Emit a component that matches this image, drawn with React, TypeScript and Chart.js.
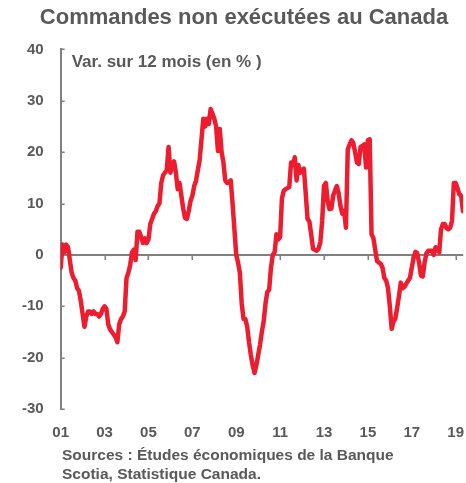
import React, { useEffect, useRef } from "react";
import { Chart, registerables } from "chart.js";

Chart.register(...registerables);

// ---- Data (monthly, y/y % change) ----
const startYear = 2001;
const y2001 = [-2.5, 2.0, 0.5, 2.0, 1.5, -1.0, -3.5, -4.5, -5.0, -6.5, -7.0, -9.0];
const y2002 = [-11.5, -14.0, -12.0, -11.0, -11.0, -11.5, -11.0, -11.5, -11.5, -12.0, -11.5, -10.5];
const y2003 = [-10.0, -10.5, -13.5, -14.5, -15.0, -15.5, -16.0, -17.0, -13.5, -12.5, -12.0, -11.0];
const y2004 = [-4.5, -3.5, -2.0, 0.5, 1.0, -1.0, 4.5, 4.5, 3.5, 2.3, 3.2, 2.3];
const y2005 = [3.0, 6.0, 7.0, 8.0, 8.5, 9.5, 10.0, 14.0, 15.5, 16.0, 16.5, 21.0];
const y2006 = [16.0, 17.5, 18.2, 16.0, 12.8, 14.0, 11.5, 9.0, 7.2, 7.0, 8.5, 10.5];
const y2007 = [11.5, 13.4, 14.4, 16.5, 18.5, 22.5, 26.5, 25.0, 26.5, 25.5, 28.4, 27.5];
const y2008 = [26.5, 25.0, 20.2, 24.5, 20.0, 18.0, 14.5, 14.0, 14.2, 14.5, 10.0, 5.0];
const y2009 = [0.0, -1.5, -3.5, -9.5, -12.5, -12.5, -14.0, -17.0, -19.5, -21.5, -23.0, -21.5];
const y2010 = [-19.5, -17.5, -15.0, -13.0, -9.5, -7.2, -6.8, -2.5, 0.0, 0.5, 4.0, 3.0];
const y2011 = [3.5, 11.0, 12.5, 12.8, 13.0, 13.2, 18.0, 17.5, 19.0, 14.5, 17.5, 16.0];
const y2012 = [16.5, 16.8, 12.0, 7.0, 6.5, 4.0, 1.2, 1.0, 0.8, 1.2, 2.5, 6.6];
const y2013 = [13.5, 14.0, 10.5, 8.9, 9.0, 11.5, 12.5, 13.4, 12.0, 9.5, 8.0, 8.5];
const y2014 = [5.3, 20.5, 21.5, 22.3, 21.8, 20.0, 18.0, 17.7, 21.0, 21.2, 21.5, 17.0];
const y2015 = [22.3, 22.5, 4.0, 3.3, 1.0, -1.2, -1.5, -1.7, -2.5, -4.5, -5.0, -6.5];
const y2016 = [-10.0, -14.4, -13.0, -12.4, -10.3, -8.0, -5.4, -6.5, -6.2, -5.6, -5.0, -4.5];
const y2017 = [-2.5, -0.6, 0.6, 0.3, -1.5, -4.0, -4.2, -1.5, 0.3, 0.8, 0.8, 0.8];
const y2018 = [0.0, 1.5, 1.0, 0.5, 5.0, 6.0, 6.0, 5.2, 5.0, 5.3, 6.6, 14.0];
const y2019 = [14.0, 13.0, 11.8, 11.5, 8.5];

const yearTickLabels = ["01", "03", "05", "07", "09", "11", "13", "15", "17", "19"];
const yTickValues = [-30, -20, -10, 0, 10, 20, 30, 40];

const titleText = "Commandes non exécutées au Canada";
const unitNote = "Var. sur 12 mois (en % )";
const sourceLines = ["Sources : Études économiques de la Banque", "Scotia, Statistique Canada."];

const monthly = [
  ...y2001, ...y2002, ...y2003, ...y2004, ...y2005, ...y2006, ...y2007,
  ...y2008, ...y2009, ...y2010, ...y2011, ...y2012, ...y2013, ...y2014,
  ...y2015, ...y2016, ...y2017, ...y2018, ...y2019,
];

const RED = "#ED1C2E";
const AXIS = "#808080";
const TEXT = "#595959";
const FONT = "'Liberation Sans', Arial, sans-serif";
const CLEAR = "rgba(0,0,0,0)";

const tickYears = yearTickLabels.map((l) => 2000 + parseInt(l, 10));

export default function App() {
  const canvasRef = useRef<HTMLCanvasElement | null>(null);

  useEffect(() => {
    document.body.style.margin = "0";
    const canvas = canvasRef.current;
    if (!canvas) return;

    const points = monthly.map((v, i) => ({ x: startYear + i / 12, y: v }));

    const axesPlugin = {
      id: "axesMarks",
      beforeDatasetsDraw(chart: any) {
        const { ctx, chartArea, scales } = chart;
        const y0 = scales.y.getPixelForValue(0);
        ctx.save();
        ctx.strokeStyle = AXIS;
        // zero line acting as the horizontal axis
        ctx.lineWidth = 2;
        ctx.beginPath();
        ctx.moveTo(chartArea.left, y0);
        ctx.lineTo(chartArea.right, y0);
        ctx.stroke();
        // x tick marks hanging below the zero line
        ctx.lineWidth = 1.5;
        ctx.beginPath();
        tickYears.forEach((yr) => {
          const x = Math.round(scales.x.getPixelForValue(yr)) + 0.25;
          ctx.moveTo(x, y0);
          ctx.lineTo(x, y0 + 5);
        });
        // y tick marks pointing inside
        yTickValues.forEach((v) => {
          const py = Math.round(scales.y.getPixelForValue(v)) + 0.25;
          ctx.moveTo(chartArea.left, py);
          ctx.lineTo(chartArea.left + 4, py);
        });
        ctx.stroke();
        ctx.restore();
      },
      afterDraw(chart: any) {
        const { ctx, chartArea } = chart;
        ctx.save();
        ctx.fillStyle = TEXT;
        ctx.font = `bold 17px ${FONT}`;
        ctx.textAlign = "left";
        ctx.textBaseline = "alphabetic";
        ctx.fillText(unitNote, chartArea.left + 11, chartArea.top + 18);
        ctx.restore();
      },
    };

    const chart = new Chart(canvas, {
      type: "line",
      data: {
        datasets: [
          {
            data: points,
            borderColor: RED,
            borderWidth: 4.5,
            pointRadius: 0,
            tension: 0,
            borderJoinStyle: "round",
            borderCapStyle: "round",
            fill: false,
          },
        ],
      },
      options: {
        animation: false,
        responsive: false,
        maintainAspectRatio: false,
        layout: { padding: { left: 22, right: 0, top: 0, bottom: 39 } },
        plugins: {
          legend: { display: false },
          tooltip: { enabled: false },
          title: {
            display: true,
            text: titleText,
            color: TEXT,
            font: { family: FONT, size: 22, weight: "bold" },
            padding: { top: 5, bottom: 18 },
          },
        },
        scales: {
          x: {
            type: "linear",
            min: startYear,
            max: startYear + (monthly.length - 1) / 12 + 0.01,
            afterBuildTicks: (scale: any) => {
              scale.ticks = tickYears.map((v) => ({ value: v }));
            },
            ticks: {
              autoSkip: false,
              maxRotation: 0,
              padding: 2,
              color: TEXT,
              font: { family: FONT, size: 15, weight: "bold" },
              callback: (value: any) => {
                const idx = tickYears.indexOf(Number(value));
                return idx >= 0 ? yearTickLabels[idx] : "";
              },
            },
            grid: {
              display: true,
              drawOnChartArea: false,
              drawTicks: true,
              tickLength: 13,
              color: CLEAR,
            },
            border: { display: false },
          },
          y: {
            type: "linear",
            min: -30,
            max: 40,
            afterBuildTicks: (scale: any) => {
              scale.ticks = yTickValues.map((v) => ({ value: v }));
            },
            ticks: {
              padding: 0,
              color: TEXT,
              font: { family: FONT, size: 15, weight: "bold" },
            },
            grid: {
              display: true,
              drawOnChartArea: false,
              drawTicks: true,
              tickLength: 17,
              color: CLEAR,
            },
            border: { display: true, color: AXIS, width: 2 },
          },
        },
      },
      plugins: [axesPlugin],
    });

    return () => chart.destroy();
  }, []);

  return (
    <div style={{ position: "relative", width: 466, height: 483 }}>
      <canvas ref={canvasRef} width={466} height={483} style={{ display: "block" }} />
      <div
        style={{
          position: "absolute",
          left: 62,
          top: 445,
          fontFamily: FONT,
          fontWeight: "bold",
          fontSize: 15.5,
          lineHeight: "19px",
          color: TEXT,
          whiteSpace: "nowrap",
        }}
      >
        {sourceLines.map((l, i) => (
          <div key={i}>{l}</div>
        ))}
      </div>
    </div>
  );
}
